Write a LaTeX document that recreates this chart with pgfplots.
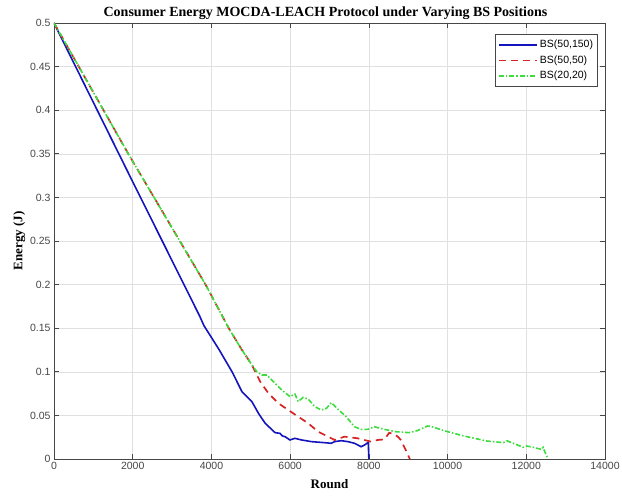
\documentclass[border=0pt]{standalone}
\usepackage{fontspec}
\setmainfont{Liberation Sans}
\newfontfamily\serifbold{Liberation Serif}
\usepackage{pgfplots}
\pgfplotsset{compat=1.18}
\definecolor{mblue}{RGB}{20,20,190}
\definecolor{mred}{RGB}{215,35,35}
\definecolor{mgreen}{RGB}{60,220,60}
\definecolor{axgray}{RGB}{70,70,70}
\begin{document}
\begin{tikzpicture}
\useasboundingbox (-54pt,-38pt) rectangle (568pt,459pt);
\begin{axis}[
  at={(0,0)}, anchor=south west,
  scale only axis, width=551pt, height=436pt,
  xmin=0, xmax=14000, ymin=0, ymax=0.5,
  xtick={0,2000,...,14000},
  ytick={0,0.05,0.1,0.15,0.2,0.25,0.3,0.35,0.4,0.45,0.5},
  scaled x ticks=false, scaled y ticks=false,
  xticklabel style={/pgf/number format/1000 sep={}},
  yticklabel style={/pgf/number format/fixed, /pgf/number format/precision=2},
  /pgf/number format/assume math mode=true,
  tick label style={font=\fontsize{10.5}{12}\selectfont, text=axgray},
  grid=major, major grid style={black!12, line width=0.5pt},
  axis line style={axgray, line width=0.6pt},
  tick style={axgray, line width=0.6pt},
  tick align=inside, major tick length=5pt,
  title={\serifbold\bfseries\fontsize{14}{16}\selectfont Consumer Energy MOCDA-LEACH Protocol under Varying BS Positions},
  title style={yshift=-6pt, xshift=-4pt},
  xlabel={\serifbold\bfseries\fontsize{13}{15}\selectfont Round},
  ylabel={\serifbold\bfseries\fontsize{13}{15}\selectfont Energy (J)},
  xlabel style={yshift=-3pt},
  ylabel style={yshift=-2pt},
  legend style={at={(0.986,0.975)}, anchor=north east, draw=axgray, line width=0.5pt,
    font=\fontsize{10.5}{12}\selectfont, inner xsep=2pt, inner ysep=3pt,
    /tikz/every even column/.append style={column sep=1pt}},
  legend cell align=left,
  legend image code/.code={\draw[#1, line width=1.8pt] (0cm,0cm) -- (1.35cm,0cm);},
  every axis legend/.append style={nodes={inner ysep=3.2pt}},
]
\addplot[mblue, line width=1.6pt] coordinates {
(0,0.5) (1900,0.327) (3700,0.164)
(3809,0.153) (4187,0.126) (4524,0.100) (4776,0.0772) (4902,0.0715)
(5028,0.0658) (5200,0.052) (5365,0.041) (5617,0.0302) (5743,0.0294) (5800,0.0265)
(5869,0.0256) (5996,0.0218) (6122,0.0237) (6290,0.0218) (6542,0.0199) (6878,0.0187)
(7046,0.018) (7130,0.0199) (7298,0.021) (7467,0.0199) (7635,0.018) (7803,0.0141)
(7887,0.016) (7985,0.019) (8000,0)
};
\addlegendentry{BS(50,150)}
\addplot[mred, line width=1.7pt, dash pattern=on 7pt off 5pt] coordinates {
(0,0.5) (1900,0.349) (3851,0.2)
(4440,0.15) (4776,0.125) (5028,0.108) (5070,0.104) (5239,0.0887) (5449,0.0753)
(5701,0.0639) (5953,0.0562) (6205,0.0485) (6458,0.041) (6710,0.0313) (6962,0.0256)
(7130,0.0218) (7382,0.0256) (7719,0.0237) (8055,0.0199) (8223,0.0218) (8391,0.0225)
(8518,0.030) (8644,0.0285) (8750,0.025) (8812,0.0218) (8938,0.0103) (9040,0)
};
\addlegendentry{BS(50,50)}
\addplot[mgreen, line width=1.6pt, dash pattern=on 5pt off 2pt on 1.5pt off 2pt] coordinates {
(0,0.5) (1900,0.349) (3851,0.2)
(4440,0.15) (4776,0.125) (5028,0.1078) (5154,0.1001) (5281,0.0963) (5407,0.0963)
(5533,0.0906) (5785,0.0791) (5996,0.0715) (6122,0.0745) (6205,0.0658) (6332,0.0707)
(6458,0.0688) (6626,0.060) (6794,0.0562) (6920,0.058) (7046,0.0646) (7214,0.057)
(7425,0.0485) (7635,0.037) (7803,0.034) (7971,0.034) (8139,0.037) (8391,0.034)
(8686,0.0313) (9022,0.0302) (9232,0.0325) (9485,0.0378) (9569,0.0375) (9905,0.0325)
(10410,0.0264) (10998,0.0206) (11419,0.0187) (11503,0.021) (11924,0.0134)
(12007,0.0149) (12176,0.0134) (12386,0.011) (12428,0.0134) (12470,0.0084) (12554,0)
};
\addlegendentry{BS(20,20)}
\end{axis}
\end{tikzpicture}
\end{document}
